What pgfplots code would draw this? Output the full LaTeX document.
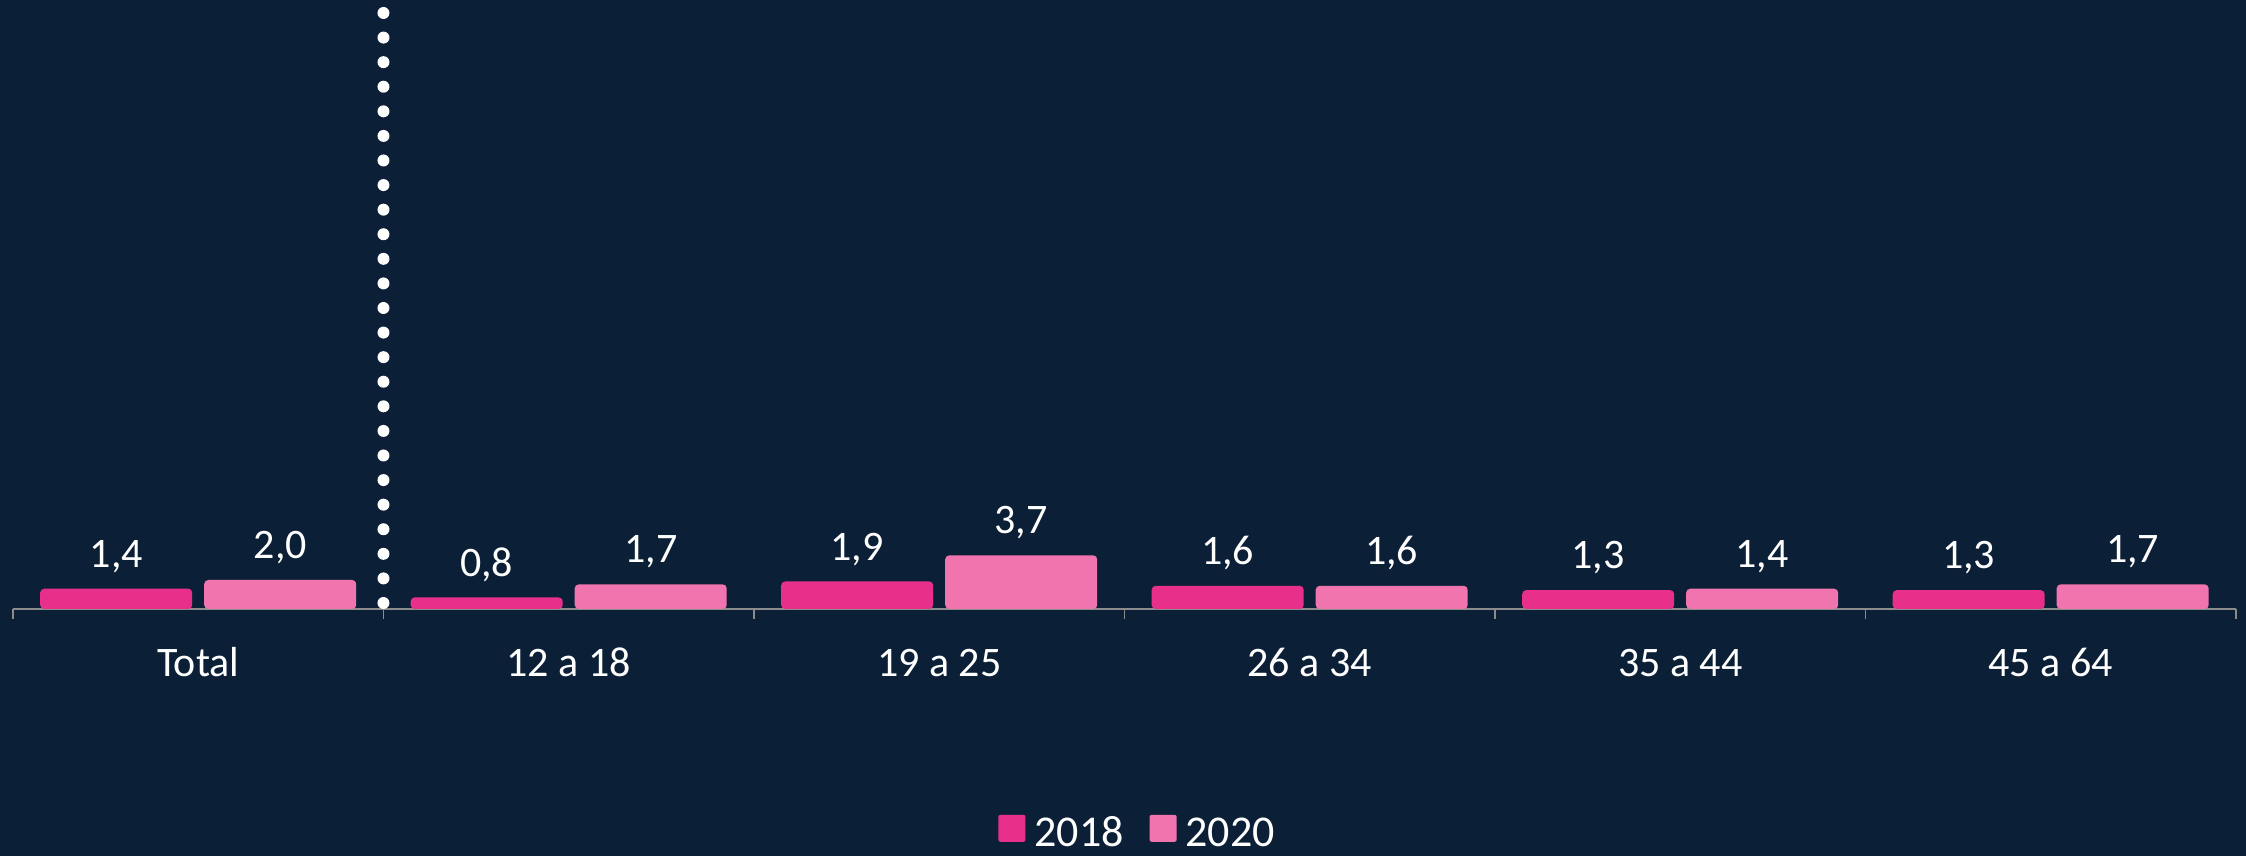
\documentclass[border=0pt]{standalone}
\usepackage{pgfplots}
\pgfplotsset{compat=1.18}
\usepackage{fontspec}
\setmainfont{Carlito}
\definecolor{bg}{HTML}{0B2036}
\definecolor{c18}{HTML}{E8308A}
\definecolor{c20}{HTML}{F074AE}
\definecolor{axgray}{HTML}{8C8C8C}
\begin{document}
\begin{tikzpicture}
\fill[bg] (0,0) rectangle (1123pt,428pt);
\begin{axis}[
  at={(6.5pt,123.5pt)}, anchor=south west,
  scale only axis, width=1111.5pt, height=304.5pt,
  xmin=-0.5, xmax=5.5, ymin=0, ymax=42,
  clip=false,
  ybar,
  axis y line=none, axis x line*=bottom,
  x axis line style={axgray, line width=0.8pt},
  xtick={0,...,5},
  xticklabels={Total,12 a 18,19 a 25,26 a 34,35 a 44,45 a 64},
  major tick length=0pt,
  minor xtick={-0.5,0.5,...,5.5},
  minor x tick style={axgray, line width=0.8pt},
  minor tick length=5pt, tick align=outside,
  xticklabel style={font=\fontsize{21}{25}\selectfont, text=white, inner sep=0pt,
     text height=13.3pt, text depth=0pt, anchor=north, yshift=-20pt},
  legend columns=2,
  legend style={at={(axis description cs:0.5075,0)}, anchor=north, yshift=-102.7pt,
     draw=none, fill=none, inner sep=0pt,
     /tikz/every even column/.append style={column sep=8.5pt},
     nodes={inner xsep=4.5pt, inner ysep=0pt, text height=14pt, text depth=0pt,
        font=\fontsize{22}{26}\selectfont, text=white}},
  /pgf/number format/.cd, fixed, fixed zerofill, precision=1, use comma, assume math mode=true,
]
\addplot[fill=c18, draw=none, rounded corners=2pt, bar width=76pt, bar shift=-41pt,
  legend image code/.code={\fill[c18, rounded corners=1pt] (0pt,-4.8pt) rectangle (13.5pt,8.7pt);},
  nodes near coords, point meta=y,
  nodes near coords style={font=\fontsize{21}{25}\selectfont, text=white, anchor=south,
     inner sep=0pt, text depth=0pt, yshift=10.5pt}]
  coordinates {(0,1.4) (1,0.8) (2,1.9) (3,1.6) (4,1.3) (5,1.3)};
\addlegendentry{2018}
\addplot[fill=c20, draw=none, rounded corners=2pt, bar width=76pt, bar shift=41pt,
  legend image code/.code={\fill[c20, rounded corners=1pt] (0pt,-4.8pt) rectangle (13.5pt,8.7pt);},
  nodes near coords, point meta=y,
  nodes near coords style={font=\fontsize{21}{25}\selectfont, text=white, anchor=south,
     inner sep=0pt, text depth=0pt, yshift=10.5pt}]
  coordinates {(0,2.0) (1,1.7) (2,3.7) (3,1.6) (4,1.4) (5,1.7)};
\addlegendentry{2020}
\addplot[sharp plot, white, line width=6pt, line cap=round,
  dash pattern=on 0pt off 12.2917pt, forget plot]
  coordinates {(0.5,0.4138) (0.5,41.25)};
\end{axis}
\pgfresetboundingbox
\path (0,0) rectangle (1123pt,428pt);
\end{tikzpicture}
\end{document}
